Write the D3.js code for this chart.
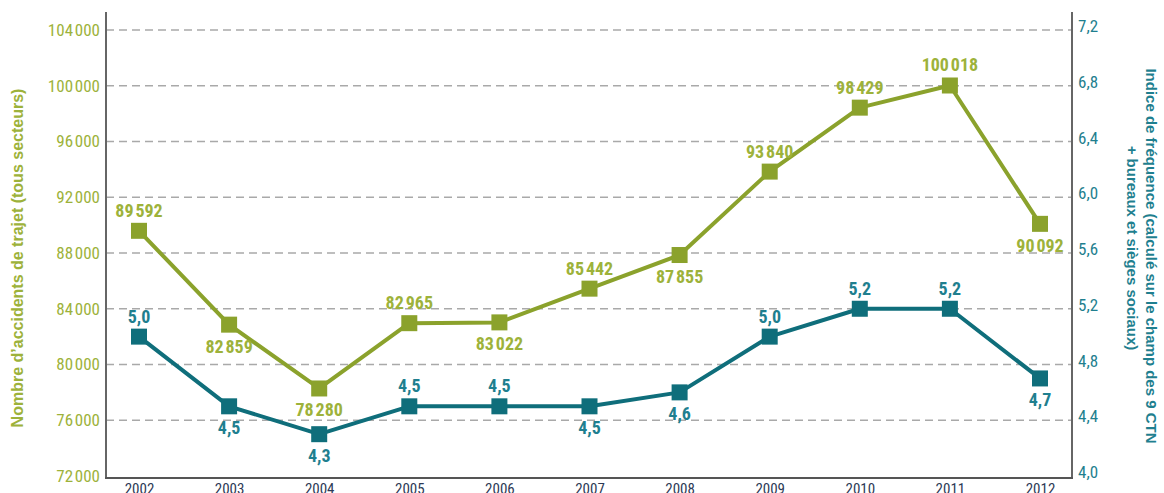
<!DOCTYPE html>
<html>
<head>
<meta charset="utf-8">
<script src="https://cdn.jsdelivr.net/npm/d3@7"></script>
<style>
  body { margin: 0; background: #fff; }
  text { font-family: "Liberation Sans Narrow", "Roboto Condensed", "Arial Narrow", sans-serif; }
  text.title { font-family: "Liberation Sans", Arial, sans-serif; }
</style>
</head>
<body>
<div id="chart"></div>
<script>
var years = [2002, 2003, 2004, 2005, 2006, 2007, 2008, 2009, 2010, 2011, 2012]
var accidents = [89592, 82859, 78280, 82965, 83022, 85442, 87855, 93840, 98429, 100018, 90092]
var indice = [5.0, 4.5, 4.3, 4.5, 4.5, 4.5, 4.6, 5.0, 5.2, 5.2, 4.7]
var leftTicks = [72000, 76000, 80000, 84000, 88000, 92000, 96000, 100000, 104000]
var rightTicks = [4.0, 4.4, 4.8, 5.2, 5.6, 6.0, 6.4, 6.8, 7.2]
// 1 = label above the marker, -1 = below
var accPos = [1, -1, -1, 1, -1, 1, -1, 1, 1, 1, -1]
var indPos = [1, -1, -1, 1, 1, -1, -1, 1, 1, 1, -1]

var width = 1164, height = 493
var plotLeft = 106, plotRight = 1072, plotTop = 30, plotBottom = 476

var green = '#8ba22c', greenTxt = '#9db23a'
var teal = '#0f6e7b', tealTxt = '#1f7f8f'

var fr = d3.formatLocale({decimal: ',', thousands: '\u200A', grouping: [3], currency: ['', '€']})
var fmtInt = fr.format(',d')
var fmtDec = fr.format('.1f')

var svg = d3.select('#chart').append('svg')
  .attr('width', width)
  .attr('height', height)

var x = d3.scalePoint().domain(years).range([139, 1040])
var yL = d3.scaleLinear().domain([72000, 104000]).range([plotBottom, plotTop])
var yR = d3.scaleLinear().domain([4.0, 7.2]).range([plotBottom, plotTop])

// grid
svg.append('g').selectAll('line')
  .data(leftTicks.slice(1))
  .enter().append('line')
    .attr('x1', plotLeft).attr('x2', plotRight)
    .attr('y1', d => yL(d)).attr('y2', d => yL(d))
    .attr('stroke', '#a9a9a9')
    .attr('stroke-width', 1.5)
    .attr('stroke-dasharray', '8,5')

// axes
var axL = svg.append('g')
  .attr('transform', 'translate(' + plotLeft + ',0)')
  .call(d3.axisLeft(yL).tickValues(leftTicks).tickFormat(fmtInt).tickSize(0).tickPadding(6))
axL.select('.domain').remove()
axL.selectAll('text').attr('fill', greenTxt).style('font-size', '17px')

var axR = svg.append('g')
  .attr('transform', 'translate(' + plotRight + ',0)')
  .call(d3.axisRight(yR).tickValues(rightTicks).tickFormat(fmtDec).tickSize(0).tickPadding(6))
axR.select('.domain').remove()
axR.selectAll('text').attr('fill', tealTxt).style('font-size', '17px').attr('dy', '0.1em')

var axX = svg.append('g')
  .attr('transform', 'translate(0,' + (plotBottom + 2) + ')')
  .call(d3.axisBottom(x).tickSize(0).tickPadding(5))
axX.select('.domain').remove()
axX.selectAll('text').attr('fill', '#2d3a56').style('font-size', '15px')

svg.append('line').attr('x1', plotLeft).attr('x2', plotLeft).attr('y1', 12).attr('y2', plotBottom + 2)
  .attr('stroke', '#666').attr('stroke-width', 2)
svg.append('line').attr('x1', plotRight).attr('x2', plotRight).attr('y1', 12).attr('y2', plotBottom + 2)
  .attr('stroke', '#666').attr('stroke-width', 2)
svg.append('line').attr('x1', plotLeft - 1).attr('x2', plotRight + 1).attr('y1', plotBottom + 2).attr('y2', plotBottom + 2)
  .attr('stroke', '#555').attr('stroke-width', 2)

// axis titles
svg.append('text')
  .attr('class', 'title')
  .attr('transform', 'translate(23,258) rotate(-90)')
  .attr('text-anchor', 'middle')
  .attr('fill', greenTxt)
  .style('font-size', '16px').style('font-weight', 'bold')
  .text('Nombre d\u2019accidents de trajet (tous secteurs)')

var rt = svg.append('text')
  .attr('class', 'title')
  .attr('transform', 'translate(1146,256) rotate(90)')
  .attr('text-anchor', 'middle')
  .attr('fill', tealTxt)
  .style('font-size', '15px').style('font-weight', 'bold')
rt.append('tspan').attr('x', 0).attr('y', 0).text('Indice de fréquence (calculé sur le champ des 9 CTN')
rt.append('tspan').attr('x', -8).attr('y', 19).text('+ bureaux et sièges sociaux)')

function series(vals, y, color, txtColor, pos, fmt) {
  var line = d3.line().x((d, i) => x(years[i])).y(d => y(d))
  svg.append('path').datum(vals)
    .attr('d', line)
    .attr('fill', 'none')
    .attr('stroke', color)
    .attr('stroke-width', 4)
    .attr('stroke-linejoin', 'round')
  svg.append('g').selectAll('rect')
    .data(vals)
    .enter().append('rect')
      .attr('x', (d, i) => x(years[i]) - 8)
      .attr('y', d => y(d) - 8)
      .attr('width', 16).attr('height', 16)
      .attr('fill', color)
  svg.append('g').selectAll('text')
    .data(vals)
    .enter().append('text')
      .attr('x', (d, i) => x(years[i]))
      .attr('y', (d, i) => y(d) + (pos[i] > 0 ? -14 : 28))
      .attr('text-anchor', 'middle')
      .attr('fill', txtColor)
      .style('font-size', '18px').style('font-weight', 'bold')
      .text(d => fmt(d))
}

series(accidents, yL, green, greenTxt, accPos, fmtInt)
series(indice, yR, teal, tealTxt, indPos, fmtDec)
</script>
</body>
</html>
